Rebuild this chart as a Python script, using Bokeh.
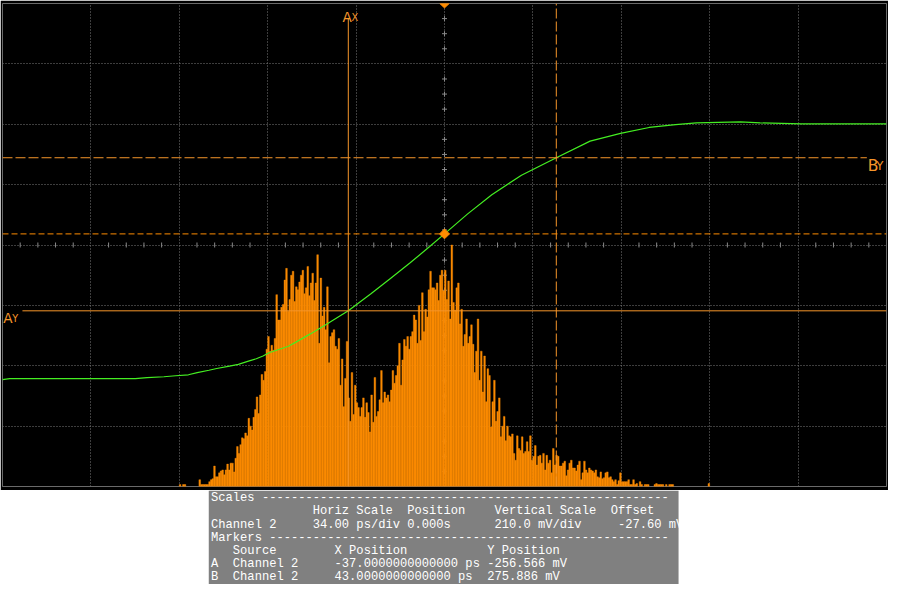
import numpy as np
from bokeh.plotting import figure
from bokeh.models import Range1d, FixedTicker
from bokeh.layouts import column
from bokeh.embed import file_html
from bokeh.resources import INLINE
from bokeh.core.properties import value

# ---------------- scope settings / data ----------------
PS_PER_DIV = 34.0
MV_PER_DIV = 210.0
OFFSET_MV = -27.60
POSITION_S = 0.0
H_DIVS = 10
V_DIVS = 8

AX_PS = -37.0
AY_MV = -256.566
BX_PS = 43.0
BY_MV = 275.886
TRIG_MV = 11.0

# green waveform (ps, mV)
green_ps = [-170.0, -167.2, -118.9, -114.4, -107.9, -103.4, -98.5, -95.1, -90.6, -87.6,
            -82.7, -79.3, -75.1, -72.4, -69.8, -67.5, -64.9, -60.0, -57.3, -51.6,
            -46.0, -37.0, -28.3, -20.8, -13.2, -5.7, 0.0, 8.8, 18.2, 29.6,
            43.0, 56.0, 67.7, 78.7, 88.9, 96.9, 113.8, 121.4, 137.3, 170.0]
green_mv = [-496.0, -492.6, -492.6, -489.2, -485.8, -482.4, -479.0, -471.3, -463.2, -457.1,
            -448.6, -442.9, -430.7, -423.2, -413.7, -402.2, -394.4, -379.9, -366.3, -336.8,
            -306.4, -256.6, -197.0, -143.8, -89.6, -33.0, 11.0, 79.8, 147.5, 215.3,
            275.9, 333.8, 360.9, 381.2, 391.4, 397.1, 400.5, 397.1, 393.8, 393.8]

# time histogram (hits per bin)
HIST_START_PS = -102.64
HIST_BIN_PS = 0.6296
HIST_FULL_SCALE = 496.0
hist_hits = (
    [0, 2, 0, 2, 2, 0, 0, 0, 0, 0, 0, 0, 0, 7, 2, 2, 2, 2, 2, 5,
     7, 8, 21, 10, 10, 14, 16, 17, 12, 17, 23, 17, 24, 24, 15, 29, 41, 34, 43, 50,
     49, 55, 52, 70, 62, 58, 71, 79, 92, 75, 94, 115, 109, 118, 141, 154, 139, 145, 140, 152,
     197, 171, 171, 184, 187, 212, 224, 180, 192, 217, 221, 190, 205, 202, 210, 217, 222, 198]
    + [204, 226, 196, 209, 219, 191, 209, 238, 147, 214,
       175, 184, 161, 205, 127, 154, 158, 161, 144, 141,
       152, 104, 131, 82, 111, 149, 91, 67, 117, 74,
       104, 86, 81, 72, 81, 91, 71, 86, 76, 56,
       94, 66, 112, 72, 77, 89, 119, 86, 97, 91,
       94, 87, 99, 119, 106, 114, 124, 147, 104, 130,
       151, 144, 154, 141, 154, 159, 176, 171, 147, 186,
       150, 199, 159, 182, 174, 202, 221, 204]
    + [204, 202, 209, 191, 217, 222, 201, 222, 192, 211,
       172, 248, 189, 181, 204, 209, 167, 182, 144, 156,
       172, 147, 154, 166, 146, 117, 139, 172, 109, 139,
       97, 134, 87, 121, 114, 61, 87, 109, 67, 77,
       91, 51, 62, 72, 47, 62, 52, 51, 54, 34,
       27, 52, 39, 37, 51, 34, 36, 46, 36, 52,
       27, 31, 42, 22, 31, 32, 24, 34, 17, 32,
       24, 27, 14, 39, 22, 32, 31, 21]
    + [21, 24, 26, 11, 17, 24, 27, 19, 19, 16,
       22, 26, 7, 14, 26, 17, 14, 19, 17, 16,
       14, 17, 10, 9, 15, 8, 9, 14, 15, 9,
       10, 7, 5, 7, 2, 6, 14, 5, 5, 5,
       5, 7, 2, 2, 7, 2, 3, 0, 5, 2,
       0, 2, 2, 2, 0, 0, 0, 2, 3, 2,
       2, 2, 2, 0, 2, 0, 2, 2, 2]
    + [0] * 21 + [3]
)

# ---------------- styles ----------------
ORANGE_HIST = "#FA8A00"
ORANGE_MARK = "#F5952A"
ORANGE_TRIG = "#FF8C00"
GREEN = "#44EE22"
GRID = "#7a7a7a"

SX = 888 / 904
SY = 584 / 600
W = 888
H1 = 490
H2 = 94

X_MIN = -H_DIVS / 2 * PS_PER_DIV
X_MAX = H_DIVS / 2 * PS_PER_DIV
Y_MIN = OFFSET_MV - V_DIVS / 2 * MV_PER_DIV
Y_MAX = OFFSET_MV + V_DIVS / 2 * MV_PER_DIV

PX_DIV_X = 90.0   # reference pixels per division
PX_DIV_Y = 62.0


def dx(px):
    return px * PS_PER_DIV / PX_DIV_X


def dy(px):
    return px * MV_PER_DIV / PX_DIV_Y


def fs(px):
    return value(f"{px * SY:.1f}px")


p = figure(width=W, height=H1,
           x_range=Range1d(X_MIN, X_MAX), y_range=Range1d(Y_MIN, Y_MAX),
           output_backend="svg", toolbar_location=None,
           min_border_left=2, min_border_right=2, min_border_top=3, min_border_bottom=4,
           background_fill_color="black", border_fill_color="black",
           outline_line_color="#6a6a6a", outline_line_width=1)
p.xaxis.visible = False
p.yaxis.visible = False
p.xgrid.ticker = FixedTicker(ticks=[X_MIN + k * PS_PER_DIV for k in range(1, H_DIVS)])
p.ygrid.ticker = FixedTicker(ticks=[Y_MIN + k * MV_PER_DIV for k in range(1, V_DIVS)])
for g in (p.xgrid, p.ygrid):
    g.grid_line_color = GRID
    g.grid_line_dash = "1 2"
    g.grid_line_width = 1

# center-axis minor ticks
qy = [OFFSET_MV + k * MV_PER_DIV / 4 for k in range(-16, 17) if k % 4 != 0]
p.scatter(x=[0.0] * len(qy), y=qy, marker="cross", size=5, line_color="#8a8a8a", line_width=1)
fx = [m * PS_PER_DIV / 5 for m in range(-25, 26) if m % 5 != 0]
p.scatter(x=fx, y=[OFFSET_MV] * len(fx), marker="dash", angle=np.pi / 2, size=5,
          line_color="#8a8a8a", line_width=1)

# histogram
hits = np.array(hist_hits, dtype=float)
centers = HIST_START_PS + (np.arange(len(hits)) + 0.5) * HIST_BIN_PS
mask = hits > 0
p.extra_y_ranges = {"hits": Range1d(0, HIST_FULL_SCALE)}
p.vbar(x=centers[mask], width=HIST_BIN_PS, top=hits[mask], bottom=0, y_range_name="hits",
       fill_color=ORANGE_HIST, line_color=ORANGE_HIST, line_width=0.4)

# waveform
p.line(green_ps, green_mv, line_color=GREEN, line_width=1.2)

# markers
p.segment(x0=[AX_PS], y0=[Y_MIN], x1=[AX_PS], y1=[Y_MAX - dy(15.7)],
          line_color=ORANGE_MARK, line_width=1)
p.segment(x0=[X_MIN + dx(20.3)], y0=[AY_MV], x1=[X_MAX], y1=[AY_MV],
          line_color=ORANGE_MARK, line_width=1)
p.segment(x0=[BX_PS], y0=[Y_MIN], x1=[BX_PS], y1=[Y_MAX],
          line_color=ORANGE_MARK, line_width=1, line_dash="10 3")
p.segment(x0=[X_MIN], y0=[BY_MV], x1=[X_MAX - dx(20)], y1=[BY_MV],
          line_color=ORANGE_MARK, line_width=1, line_dash="10 3")
# trigger level
p.segment(x0=[X_MIN], y0=[TRIG_MV], x1=[X_MAX], y1=[TRIG_MV],
          line_color=ORANGE_TRIG, line_width=1, line_dash="6 3")
p.scatter(x=[POSITION_S], y=[TRIG_MV], marker="square", angle=np.pi / 4, size=7,
          fill_color=ORANGE_TRIG, line_color=ORANGE_TRIG)
# trigger position indicator
p.patch(x=[POSITION_S - dx(4.8), POSITION_S + dx(4.8), POSITION_S],
        y=[Y_MAX, Y_MAX, Y_MAX - dy(4.5)], fill_color=ORANGE_TRIG, line_color=ORANGE_TRIG)

# marker labels
LF = value("DejaVu Sans")
p.text(x=[AX_PS - dx(5.8)], y=[Y_MAX - dy(14.2)], text=["A"], text_font=LF,
       text_font_size=fs(14), text_color=ORANGE_MARK, text_baseline="alphabetic", text_align="left")
p.text(x=[AX_PS + dx(3.2)], y=[Y_MAX - dy(14.2)], text=["X"], text_font=LF,
       text_font_size=fs(10), text_color=ORANGE_MARK, text_baseline="alphabetic", text_align="left")
p.text(x=[X_MIN + dx(0.8)], y=[AY_MV - dy(7.4)], text=["A"], text_font=LF,
       text_font_size=fs(14), text_color=ORANGE_MARK, text_baseline="alphabetic", text_align="left")
p.text(x=[X_MIN + dx(9.8)], y=[AY_MV - dy(7.4)], text=["Y"], text_font=LF,
       text_font_size=fs(10), text_color=ORANGE_MARK, text_baseline="alphabetic", text_align="left")
p.text(x=[X_MAX - dx(19.0)], y=[BY_MV - dy(8.0)], text=["B"], text_font=LF,
       text_font_size=fs(16), text_color=ORANGE_MARK, text_baseline="alphabetic", text_align="left")
p.text(x=[X_MAX - dx(10.5)], y=[BY_MV - dy(8.0)], text=["Y"], text_font=LF,
       text_font_size=fs(12), text_color=ORANGE_MARK, text_baseline="alphabetic", text_align="left")

# ---------------- readout table ----------------
NB = "\u00a0"


def row(*parts):
    return "".join(parts).replace(" ", NB)


lines = [
    row("Scales ", "-" * 56),
    row(" " * 14, "Horiz Scale", "  ", "Position", "    ", "Vertical Scale", "  ", "Offset"),
    row("Channel 2", " " * 5, f"{PS_PER_DIV:.2f} ps/div", " ", f"{POSITION_S:.3f}s", " " * 6,
        f"{MV_PER_DIV:.1f} mV/div", " " * 5, f"{OFFSET_MV:.2f} mV"),
    row("Markers ", "-" * 55),
    row(" " * 3, "Source", " " * 8, "X Position", " " * 11, "Y Position"),
    row("A  Channel 2", " " * 5, f"{AX_PS:.13f} ps", " ", f"{AY_MV:.3f} mV"),
    row("B  Channel 2", " " * 5, f"{BX_PS:.13f} ps", "  ", f"{BY_MV:.3f} mV"),
]
line_y = [511.5, 524.9, 538.3, 551.7, 565.1, 578.5, 591.9]

# panel coordinates in reference-screen pixels, same frame alignment as the scope
t = figure(width=W, height=H2,
           x_range=Range1d(1.7, 901.7), y_range=Range1d(600.0, 503.3),
           output_backend="svg", toolbar_location=None,
           min_border_left=2, min_border_right=2, min_border_top=0, min_border_bottom=0,
           background_fill_color="white", border_fill_color="white",
           outline_line_color=None)
t.xaxis.visible = False
t.yaxis.visible = False
t.grid.visible = False
t.quad(left=[211.7], right=[690.0], top=[503.3], bottom=[600.0],
       fill_color="#808080", line_color=None)
t.text(x=[214.0] * len(lines), y=line_y, text=lines, text_font=value("Liberation Mono"),
       text_font_size=value(f"{12.33 * SX:.2f}px"), text_color="#ffffff",
       text_baseline="middle", text_align="left")

layout = column(p, t, spacing=0)
open("out.html", "w").write(file_html(layout, INLINE))
